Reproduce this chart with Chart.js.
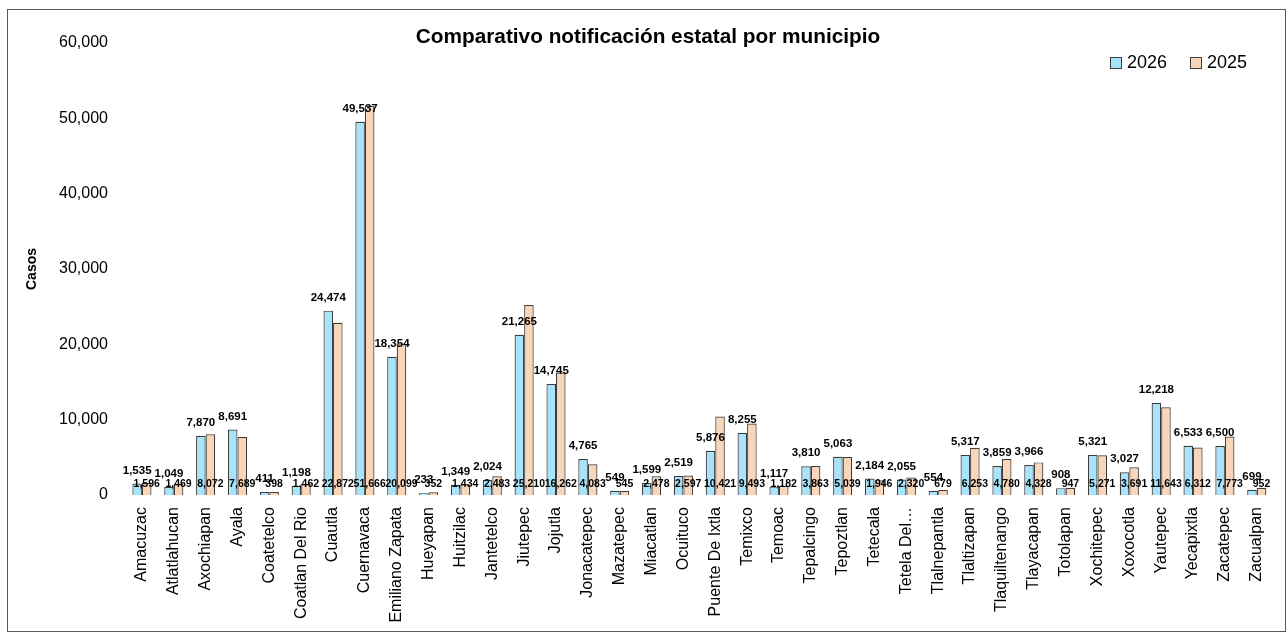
<!DOCTYPE html>
<html>
<head>
<meta charset="utf-8">
<script src="https://cdn.jsdelivr.net/npm/chart.js@4/dist/chart.umd.min.js"></script>
<style>
html,body{margin:0;padding:0;background:#fff;}
#c{display:block;}
</style>
</head>
<body>
<canvas id="c" width="1288" height="633"></canvas>
<script>
const categories = ["Amacuzac","Atlatlahucan","Axochiapan","Ayala","Coatetelco","Coatlan Del Rio","Cuautla","Cuernavaca","Emiliano Zapata","Hueyapan","Huitzilac","Jantetelco","Jiutepec","Jojutla","Jonacatepec","Mazatepec","Miacatlan","Ocuituco","Puente De Ixtla","Temixco","Temoac","Tepalcingo","Tepoztlan","Tetecala","Tetela Del…","Tlalnepantla","Tlaltizapan","Tlaquiltenango","Tlayacapan","Totolapan","Xochitepec","Xoxocotla","Yautepec","Yecapixtla","Zacatepec","Zacualpan"];
const values2026 = [1535,1049,7870,8691,411,1198,24474,49537,18354,233,1349,2024,21265,14745,4765,549,1599,2519,5876,8255,1117,3810,5063,2184,2055,554,5317,3859,3966,908,5321,3027,12218,6533,6500,699];
const values2025 = [1596,1469,8072,7689,398,1462,22872,51666,20099,352,1434,2483,25210,16262,4083,545,2478,2597,10421,9493,1182,3863,5039,1946,2320,679,6253,4780,4328,947,5271,3691,11643,6312,7773,952];
const yTicks = [0,10000,20000,30000,40000,50000,60000];
const seriesNames = ["2026","2025"];
const titleText = "Comparativo notificación estatal por municipio";

const FONT = '"Liberation Sans", Arial, sans-serif';
const fmt = v => v.toLocaleString('en-US');
const COL26 = '#A7E3FA', COL25 = '#FAD6B8', EDGE = '#3c3c3c';

const decor = {
  id: 'decor',
  afterDatasetsDraw(chart) {
    const ctx = chart.ctx;
    const y = chart.scales.y;
    const base = y.getPixelForValue(0);
    ctx.save();
    ctx.fillStyle = '#000';
    ctx.textAlign = 'center';
    ctx.textBaseline = 'middle';
    ctx.font = 'bold 10.5px ' + FONT;
    chart.getDatasetMeta(1).data.forEach((bar, i) => {
      ctx.fillText(fmt(values2025[i]), bar.x, base - 11);
    });
    ctx.font = 'bold 11.5px ' + FONT;
    chart.getDatasetMeta(0).data.forEach((bar, i) => {
      ctx.fillText(fmt(values2026[i]), bar.x, bar.y - 13);
    });
    ctx.restore();
  },
  afterDraw(chart) {
    const ctx = chart.ctx;
    ctx.save();
    ctx.fillStyle = '#000';
    ctx.font = 'bold 20.8px ' + FONT;
    ctx.textAlign = 'center';
    ctx.textBaseline = 'middle';
    ctx.fillText(titleText, 648, 37);
    ctx.font = '18px ' + FONT;
    ctx.textAlign = 'left';
    const items = [{x:1110, c:COL26, t:seriesNames[0]}, {x:1190, c:COL25, t:seriesNames[1]}];
    items.forEach(it => {
      ctx.fillStyle = it.c;
      ctx.fillRect(it.x + 0.5, 57.5, 11, 11);
      ctx.strokeStyle = EDGE;
      ctx.lineWidth = 1;
      ctx.strokeRect(it.x + 0.5, 57.5, 11, 11);
      ctx.fillStyle = '#000';
      ctx.fillText(it.t, it.x + 17, 63);
    });
    ctx.strokeStyle = '#595959';
    ctx.lineWidth = 1;
    ctx.strokeRect(7.5, 9.5, 1278, 622);
    ctx.restore();
  }
};

new Chart(document.getElementById('c'), {
  type: 'bar',
  data: {
    labels: categories,
    datasets: [
      { label: seriesNames[0], data: values2026, backgroundColor: COL26, borderColor: EDGE, borderWidth: 1.2, categoryPercentage: 0.6, barPercentage: 1 },
      { label: seriesNames[1], data: values2025, backgroundColor: COL25, borderColor: EDGE, borderWidth: 1.2, categoryPercentage: 0.6, barPercentage: 1 }
    ]
  },
  options: {
    responsive: false,
    devicePixelRatio: 1,
    animation: false,
    layout: { padding: { top: 43, right: 4, left: 0, bottom: 0 } },
    plugins: { legend: { display: false }, title: { display: false }, tooltip: { enabled: false } },
    scales: {
      x: {
        grid: { display: false, drawTicks: false },
        border: { display: false },
        ticks: { autoSkip: false, minRotation: 90, maxRotation: 90, color: '#000', font: { family: FONT, size: 16 }, padding: 12 },
        afterFit(s) { s.height = 138; }
      },
      y: {
        min: 0, max: 60000,
        grid: { display: false, drawTicks: false },
        border: { display: false },
        afterBuildTicks(s) { s.ticks = yTicks.map(v => ({ value: v })); },
        ticks: { color: '#000', font: { family: FONT, size: 16 }, padding: 18, callback: v => fmt(v) },
        title: { display: true, text: 'Casos', color: '#000', font: { family: FONT, size: 14, weight: 'bold' }, padding: { top: 24, bottom: 0 } },
        afterFit(s) { s.width = 126; }
      }
    }
  },
  plugins: [decor]
});
</script>
</body>
</html>
